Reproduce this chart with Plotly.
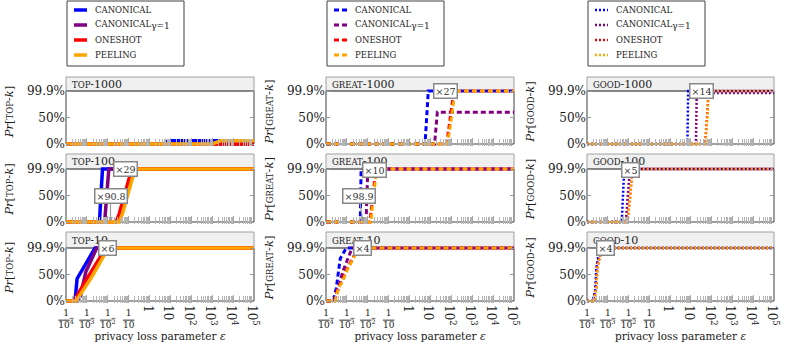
import math
import plotly.graph_objects as go

# ---------------- data ----------------
METHODS = ["CANONICAL", "CANONICAL<sub><span style='font-size:9px'>γ=1</span></sub>", "ONESHOT", "PEELING"]
COLORS = ["#0000ff", "#800080", "#ff0000", "#ffa500"]
QUALITIES = ["TOP", "GREAT", "GOOD"]
KS = [1000, 100, 10]

DECADES = [1e-4, 1e-3, 1e-2, 1e-1, 1, 10, 100, 1e3, 1e4, 1e5]
FRACTION_LABELS = ["1<br><span style='text-decoration:overline'>10<sup>4</sup></span>",
                   "1<br><span style='text-decoration:overline'>10<sup>3</sup></span>",
                   "1<br><span style='text-decoration:overline'>10<sup>2</sup></span>",
                   "1<br><span style='text-decoration:overline'>10</span>"]
POWER_VALUES = [1, 10, 100, 1e3, 1e4, 1e5]
POWER_LABELS = ["1", "10", "10<sup>2</sup>", "10<sup>3</sup>", "10<sup>4</sup>", "10<sup>5</sup>"]
Y_VALUES = [0, 0.5, 0.999]
Y_LABELS = ["0%", "50%", "99.9%"]

# each panel: one (epsilon list, Pr list) per method, in METHODS order
top_1000 = [
    ([0.0001, 5, 8, 100000], [0, 0, 0.06, 0.06]),
    ([0.0001, 100000], [0, 0]),
    ([0.0001, 100000], [0, 0]),
    ([0.0001, 1000, 2500, 100000], [0, 0, 0.06, 0.06]),
]
top_100 = [
    ([0.0001, 0.0040, 0.0047, 0.0056, 100000], [0, 0, 0.5, 0.999, 0.999]),
    ([0.0001, 0.0071, 0.0089, 0.0112, 100000], [0, 0, 0.5, 0.999, 0.999]),
    ([0.0001, 0.025, 0.035, 0.063, 0.112, 0.141, 100000], [0, 0, 0.15, 0.5, 0.9, 0.999, 0.999]),
    ([0.0001, 0.035, 0.050, 0.089, 0.158, 0.200, 100000], [0, 0, 0.15, 0.5, 0.9, 0.999, 0.999]),
]
top_10 = [
    ([0.0001, 0.00027, 0.00034, 0.00245, 100000], [0, 0, 0.42, 0.999, 0.999]),
    ([0.0001, 0.00032, 0.0005, 0.00089, 0.00295, 100000], [0, 0, 0.1, 0.55, 0.999, 0.999]),
    ([0.0001, 0.00024, 0.00112, 0.0081, 100000], [0, 0, 0.45, 0.999, 0.999]),
    ([0.0001, 0.0003, 0.0017, 0.0105, 100000], [0, 0, 0.45, 0.999, 0.999]),
]
great_1000 = [
    ([0.0001, 5.5, 7.9, 100000], [0, 0, 0.999, 0.999]),
    ([0.0001, 15.8, 21.4, 100000], [0, 0, 0.6, 0.6]),
    ([0.0001, 60, 79, 132, 100000], [0, 0, 0.35, 0.999, 0.999]),
    ([0.0001, 66, 89, 151, 100000], [0, 0, 0.35, 0.999, 0.999]),
]
great_100 = [
    ([0.0001, 0.00437, 0.00479, 100000], [0, 0, 0.999, 0.999]),
    ([0.0001, 0.0083, 0.0100, 100000], [0, 0, 0.999, 0.999]),
    ([0.0001, 0.0126, 0.0178, 0.024, 100000], [0, 0, 0.5, 0.999, 0.999]),
    ([0.0001, 0.0141, 0.0190, 0.0269, 100000], [0, 0, 0.5, 0.999, 0.999]),
]
great_10 = [
    ([0.0001, 0.00022, 0.00031, 0.00037, 0.00048, 0.00093, 100000], [0, 0, 0.24, 0.5, 0.8, 0.999, 0.999]),
    ([0.0001, 0.00024, 0.0004, 0.00063, 0.00112, 0.00178, 100000], [0, 0, 0.25, 0.55, 0.8, 0.999, 0.999]),
    ([0.0001, 0.00025, 0.00037, 0.00065, 0.00093, 0.00162, 0.0034, 100000], [0, 0, 0.24, 0.42, 0.57, 0.75, 0.999, 0.999]),
    ([0.0001, 0.00027, 0.0004, 0.0007, 0.0010, 0.00178, 0.0037, 100000], [0, 0, 0.24, 0.42, 0.57, 0.75, 0.999, 0.999]),
]
good_1000 = [
    ([0.0001, 6.8, 7.4, 100000], [0, 0, 0.999, 0.999]),
    ([0.0001, 17.4, 19.1, 100000], [0, 0, 0.96, 0.96]),
    ([0.0001, 48, 60, 71, 100000], [0, 0, 0.5, 0.999, 0.999]),
    ([0.0001, 50, 62, 71, 100000], [0, 0, 0.5, 0.999, 0.999]),
]
good_100 = [
    ([0.0001, 0.0047, 0.0062, 100000], [0, 0, 0.999, 0.999]),
    ([0.0001, 0.0074, 0.0115, 100000], [0, 0, 0.999, 0.999]),
    ([0.0001, 0.0089, 0.0120, 0.0155, 100000], [0, 0, 0.5, 0.999, 0.999]),
    ([0.0001, 0.0089, 0.0120, 0.0155, 100000], [0, 0, 0.5, 0.999, 0.999]),
]
good_10 = [
    ([0.0001, 0.00019, 0.00025, 0.00028, 0.00035, 0.0005, 100000], [0, 0, 0.2, 0.6, 0.85, 0.999, 0.999]),
    ([0.0001, 0.00021, 0.00027, 0.0003, 0.0004, 0.00056, 100000], [0, 0, 0.3, 0.7, 0.85, 0.999, 0.999]),
    ([0.0001, 0.00022, 0.00028, 0.00032, 0.00043, 0.0006, 100000], [0, 0, 0.25, 0.65, 0.85, 0.999, 0.999]),
    ([0.0001, 0.00022, 0.00028, 0.00032, 0.00043, 0.0006, 100000], [0, 0, 0.25, 0.65, 0.85, 0.999, 0.999]),
]
PANELS = [[top_1000, great_1000, good_1000],
          [top_100, great_100, good_100],
          [top_10, great_10, good_10]]

# speed-up labels: (row, col, text)
SPEEDUP_TEXT = [(1, 0, "×29"), (1, 0, "×90.8"), (2, 0, "×6"),
                (0, 1, "×27"), (1, 1, "×10"), (1, 1, "×98.9"), (2, 1, "×4"),
                (0, 2, "×14"), (1, 2, "×5"), (2, 2, "×4")]
# where each label sits: (epsilon, Pr, arrow dx px, arrow dy px)
SPEEDUP_POS = [(0.074, 0.999, None, None), (0.0135, 0.0, 0, -26), (0.0102, 0.999, None, None),
               (55, 1.0, None, None), (0.022, 0.98, None, None), (0.0059, 0.0, -4, -26), (0.0059, 0.99, None, None),
               (32, 1.0, None, None), (0.012, 0.98, None, None), (0.00081, 0.99, None, None)]

# ---------------- layout geometry ----------------
W, H = 789, 347
FONT = "DejaVu Serif"
ROWS_PX = [(144, 91, 77), (222, 169, 154), (301, 248, 232)]   # 0% line, 99.9% line, header top
COLS_PX = [(66, 254), (326, 514), (587, 774)]
PAD = 2
POWER_AXIS_PX = 298            # baseline position of the axis carrying the 1..10^5 labels
DASHES = ["solid", "5px,3px", "2px,2px"]
WIDTHS = [3.5, 3.0, 2.5]
MINOR = [m * d for d in DECADES[:-1] for m in range(2, 10)]
INK = "#1a1a1a"


def px(x):
    return x / W


def py(y):
    return 1 - y / H


fig = go.Figure()
layout = dict(width=W, height=H, margin=dict(l=0, r=0, t=0, b=0, autoexpand=False),
              paper_bgcolor="white", plot_bgcolor="white", showlegend=False,
              font=dict(family=FONT, size=11, color=INK))
shapes, annotations = [], []

for r in range(3):
    y0, y1, yh = ROWS_PX[r]
    s = (y0 - y1) / 0.999
    for c in range(3):
        i = r * 3 + c + 1
        xl, xr = COLS_PX[c]
        for m, (eps, pr) in enumerate(PANELS[r][c]):
            fig.add_trace(go.Scatter(x=eps, y=pr, mode="lines", xaxis=f"x{i}", yaxis=f"y{i}",
                                     line=dict(color=COLORS[m], width=WIDTHS[c], dash=DASHES[c]),
                                     hoverinfo="skip"))
        xa = dict(type="log", range=[-4, 5], domain=[px(xl), px(xr)], anchor=f"y{i}",
                  automargin=False,
                  tickmode="array", tickvals=DECADES, ticks="inside", ticklen=8, tickcolor="#a8a8a8",
                  showgrid=False, zeroline=False, showline=False, showticklabels=False,
                  minor=dict(tickmode="array", tickvals=MINOR, ticks="inside", ticklen=7,
                             tickcolor="#b4b4b4", showgrid=False))
        if r == 2:
            xa.update(showticklabels=True, ticktext=FRACTION_LABELS + [""] * 6,
                      tickfont=dict(family=FONT, size=9, color=INK), ticklabelstandoff=3,
                      title=dict(text="privacy loss parameter <i>ε</i>", standoff=3,
                                 font=dict(family=FONT, size=10.5, color=INK)))
            j = 9 + c + 1
            fig.add_trace(go.Scatter(x=[], y=[], mode="lines", xaxis=f"x{j}", yaxis=f"y{i}",
                                     hoverinfo="skip"))
            layout[f"xaxis{j}"] = dict(type="log", range=[-4, 5], overlaying=f"x{i}", anchor="free",
                                       position=py(POWER_AXIS_PX), domain=[px(xl), px(xr)],
                                       side="bottom", tickmode="array", tickvals=POWER_VALUES,
                                       automargin=False,
                                       ticktext=POWER_LABELS, ticks="", showgrid=False,
                                       zeroline=False, showline=False,
                                       tickfont=dict(family=FONT, size=12, color=INK))
        layout[f"xaxis{i}"] = xa
        q = QUALITIES[c]
        layout[f"yaxis{i}"] = dict(range=[-PAD / s, (y0 - yh) / s],
                                   domain=[py(y0 + PAD), py(yh)], anchor=f"x{i}",
                                   automargin=False,
                                   tickmode="array", tickvals=Y_VALUES, ticktext=Y_LABELS,
                                   ticks="inside", ticklen=4, tickcolor="#999", mirror="ticks",
                                   showgrid=False, zeroline=False, showline=False,
                                   tickfont=dict(family=FONT, size=12, color=INK),
                                   title=dict(text=f"<i>Pr</i>[<span style='font-size:8.5px'>{q}</span>-<i>k</i>]",
                                              standoff=10, font=dict(family=FONT, size=11.5, color=INK)))
        # header strip and frame
        shapes.append(dict(type="rect", xref="paper", yref="paper", x0=px(xl), x1=px(xr),
                           y0=py(y1), y1=py(yh), fillcolor="#f0f0f0",
                           line=dict(color="#a0a0a0", width=1), layer="below"))
        shapes.append(dict(type="rect", xref="paper", yref="paper", x0=px(xl), x1=px(xr),
                           y0=py(y0), y1=py(y1), line=dict(color="#404040", width=1), layer="below"))
        annotations.append(dict(xref="paper", yref="paper", x=px(xl + 4), y=py((y1 + yh) / 2),
                                xanchor="left", yanchor="middle", showarrow=False,
                                text=f"<span style='font-size:8.5px'>{q}</span>-{KS[r]}",
                                font=dict(family=FONT, size=11, color="#222")))

# speed-up boxes
for (r, c, txt), (e, p, dx, dy) in zip(SPEEDUP_TEXT, SPEEDUP_POS):
    i = r * 3 + c + 1
    a = dict(xref=f"x{i}", yref=f"y{i}", x=math.log10(e), y=p, text=txt,
             font=dict(family=FONT, size=9.5, color="#333"), bgcolor="white",
             bordercolor="#888", borderwidth=1.5, borderpad=1)
    if dx is None:
        a.update(showarrow=False)
    else:
        a.update(showarrow=True, ax=dx, ay=dy, arrowcolor="#999", arrowwidth=1.2, arrowhead=2,
                 arrowsize=0.8)
        # pin line spanning the panel height at that epsilon
        shapes.append(dict(type="line", xref=f"x{i}", yref=f"y{i}", x0=math.log10(e), x1=math.log10(e),
                           y0=0, y1=0.97, line=dict(color="#999", width=1.2)))
    annotations.append(a)

# legends, one per column
for c in range(3):
    xl = COLS_PX[c][0]
    shapes.append(dict(type="rect", xref="paper", yref="paper", x0=px(xl + 1), x1=px(xl + 118),
                       y0=py(66), y1=py(1), line=dict(color="#404040", width=1), fillcolor="white"))
    for m in range(4):
        yy = 10 + 15 * m
        shapes.append(dict(type="line", xref="paper", yref="paper", x0=px(xl + 8), x1=px(xl + 21),
                           y0=py(yy), y1=py(yy),
                           line=dict(color=COLORS[m], width=WIDTHS[c], dash=DASHES[c])))
        annotations.append(dict(xref="paper", yref="paper", x=px(xl + 27), y=py(yy),
                                xanchor="left", yanchor="middle", showarrow=False,
                                text=METHODS[m], font=dict(family=FONT, size=8.5, color="#222")))

layout["shapes"] = shapes
layout["annotations"] = annotations
fig.update_layout(**layout)
fig.write_html("out.html", config={"displayModeBar": False},
               post_script="document.body.style.margin='0';")
